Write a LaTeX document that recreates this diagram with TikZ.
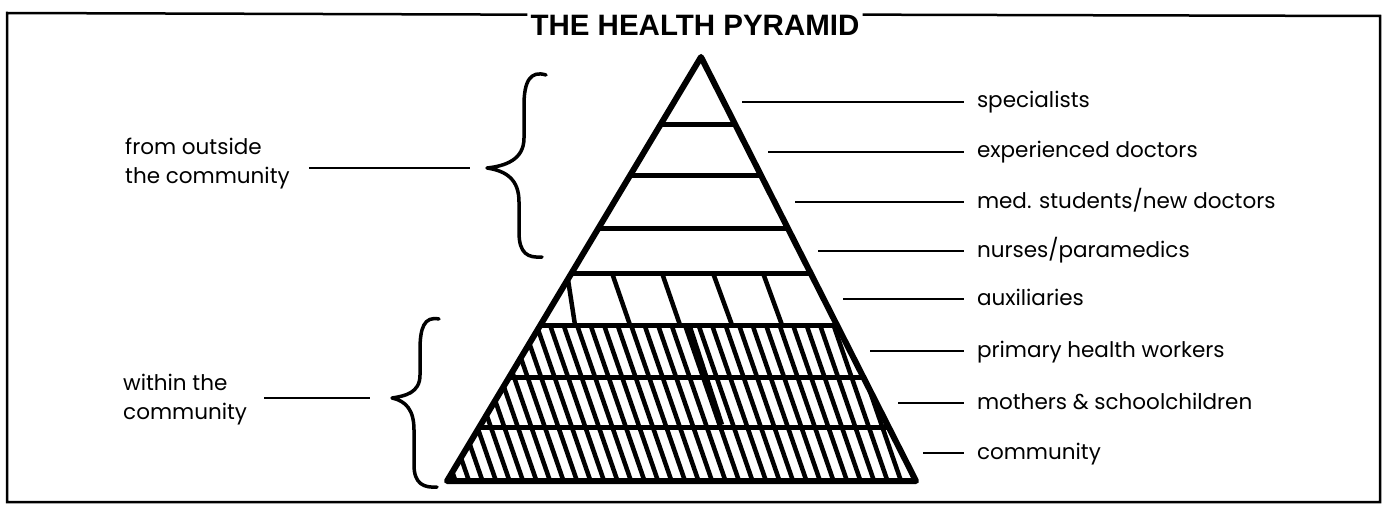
\documentclass[tikz,border=0pt]{standalone}
\usepackage{fontspec}
\setmainfont{Poppins}
\newfontfamily\titlefont{Liberation Sans}
\usetikzlibrary{positioning}

\begin{document}
\begin{tikzpicture}[x=1pt,y=-1pt,
  frame/.style={line width=2.5pt},
  outline/.style={line width=6pt,line join=round,line cap=round},
  band/.style={line width=5pt},
  hatch/.style={line width=4.5pt},
  leader/.style={line width=1.8pt},
  curly/.style={line width=3.5pt,line cap=round,line join=round},
  levelname/.style={anchor=west,inner sep=0pt,outer xsep=13pt,
    text height=12pt,text depth=0pt,font=\fontsize{21.5}{28}\selectfont},
  groupname/.style={anchor=west,inner sep=0pt,align=left,
    font=\fontsize{21.5}{29}\selectfont}
]
  \useasboundingbox (0,0) rectangle (1383,505);

  \node[inner sep=0pt,font=\titlefont\bfseries\fontsize{29.5}{29.5}\selectfont]
    (title) at (695,25) {THE HEALTH PYRAMID};
  \draw[frame] ([xshift=-3pt]title.north west) -- (7,13) -- (7,502)
    -- (1380,502) -- (1380,16) -- ([xshift=3pt]title.north east);

  \coordinate (apex) at (701,57);
  \coordinate (baseL) at (447,481);
  \coordinate (baseR) at (916,481);

  \begin{scope}
    \clip (apex) -- (baseL) -- (baseR) -- cycle;
    \foreach \y in {125,176,228,273,325,377,427}
      \draw[band] (400,\y) -- (1000,\y);
    \foreach \a/\b in {567/575,612/630,662/680,713/732,763/782}
      \draw[hatch] (\a,273) -- (\b,325);
    \foreach \x in {388,401.5,...,866}
      \draw[hatch] (\x,325) -- ++(54,156);
    \draw[hatch,line width=6.5pt] (689,327) -- (721,425);
  \end{scope}
  \draw[outline] (apex) -- (baseL) -- (baseR) -- cycle;

  \foreach \n/\xs/\y/\t in {spec/742/102/specialists,
      expd/768/152/experienced doctors,
      newd/795/202/{med. students/new doctors},
      nurs/818/251/{nurses/paramedics},
      auxi/843/299/auxiliaries,
      phw/870/351/primary health workers,
      moth/898/403/mothers \& schoolchildren,
      comm/923/453/community} {
    \node[levelname] (\n) at (964,\y) {\t};
    \coordinate (\n-in) at (\xs,\y);
    \draw[leader] (\n-in) -- (\n.west);
  }

  \node[groupname] (outside) at (125,164) {from outside\\the community};
  \coordinate (uptip) at (487,168);
  \draw[curly] (546,75) .. controls (530,70) and (524,82) .. (524,105)
    -- (524,138) .. controls (524,160) and (505,166) .. (uptip)
    .. controls (507,171) and (519,180) .. (519,202) -- (519,232)
    .. controls (519,254) and (528,258) .. (542,257);
  \draw[leader,shorten <=19pt,shorten >=17pt] (outside.east |- uptip) -- (uptip);

  \node[groupname] (within) at (123,400) {within the\\community};
  \coordinate (lowtip) at (392,398);
  \draw[curly] (439,319) .. controls (424,316) and (420,328) .. (420,350)
    -- (420,375) .. controls (420,393) and (405,396) .. (lowtip)
    .. controls (406,401) and (414,410) .. (414,430) -- (414,465)
    .. controls (414,484) and (424,488) .. (437,487);
  \draw[leader,shorten <=17pt,shorten >=22pt] (within.east |- lowtip) -- (lowtip);
\end{tikzpicture}
\end{document}
